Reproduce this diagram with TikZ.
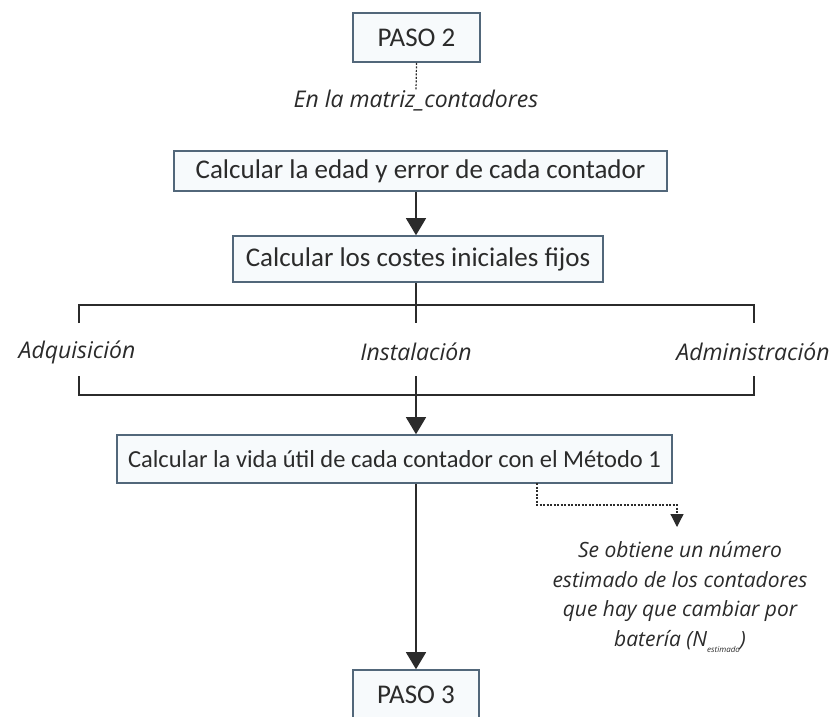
\documentclass[tikz,border=0pt]{standalone}
\usepackage{fontspec}
\setmainfont{Carlito}
\newfontfamily\notefont{Open Sans}
\usetikzlibrary{arrows.meta}
\definecolor{boxline}{HTML}{52677A}
\definecolor{boxfill}{HTML}{F7FAFC}
\definecolor{ink}{HTML}{2B2B2B}
\begin{document}
\begin{tikzpicture}[x=1pt,y=-1pt,
  stepbox/.style={draw=boxline,fill=boxfill,line width=1.6pt,text=ink,
    inner sep=0pt,font=\fontsize{27}{30}\selectfont},
  pasobox/.style={stepbox,font=\fontsize{27}{30}\selectfont},
  label/.style={text=ink,inner sep=0pt,font=\notefont\itshape\fontsize{23}{29.5}\selectfont},
  notelabel/.style={label,font=\notefont\itshape\fontsize{21}{29.5}\selectfont},
  link/.style={draw=ink,line width=1.3pt},
  arr/.style={link,-{Triangle[width=20pt,length=17pt]}},
  dotlink/.style={draw=ink,line width=1.2pt,dash pattern=on 2pt off 1.5pt},
  dotarr/.style={dotlink,-{Triangle[width=13pt,length=13pt]}}]
\useasboundingbox[fill=white] (0,0) rectangle (834,716);

% vertical spine of the flow
\coordinate (spine) at (416,0);

% boxes
\node[pasobox,minimum width=127pt,minimum height=49pt] (paso2) at (416.5,37.5) {PASO 2};
\node[label] (matriz) at (416,101) {En la matriz\_contadores};
\node[stepbox,minimum width=493pt,minimum height=40pt] (edad) at (420.5,171) {Calcular la edad y error de cada contador};
\node[stepbox,minimum width=370pt,minimum height=46pt] (costes) at (418,259) {Calcular los costes iniciales fijos};
\node[stepbox,minimum width=555pt,minimum height=48pt,font=\fontsize{24.5}{30}\selectfont] (vida) at (394.5,459) {Calcular la vida útil de cada contador con el Método 1};
\node[pasobox,minimum width=126pt,minimum height=49pt] (paso3) at (416,694.5) {PASO 3};

% cost categories
\node[label] (adq) at (77,352) {Adquisición};
\node[label] (ins) at (416,352) {Instalación};
\node[label] (adm) at (753,352) {Administración};

% bracket grouping the cost categories
\coordinate (btop) at (416,305);
\coordinate (bbot) at (416,395);
\coordinate (ltop) at (79,305);
\coordinate (rtop) at (754,305);
\coordinate (lbot) at (79,395);
\coordinate (rbot) at (754,395);

% estimate note
\node[notelabel,align=center] (nota) at (680,597) {Se obtiene un número\\estimado de los contadores\\que hay que cambiar por\\batería (N\raisebox{-0.55ex}{\fontsize{8}{8}\selectfont estimado})};
\coordinate (dstart) at (537,483);
\coordinate (dturn) at (537,505);
\coordinate (dend) at (677,527);

% connectors
\draw[dotlink] (paso2.south) -- (matriz.north);
\draw[arr] (edad.south -| spine) -- (costes.north -| spine);
\draw[link] (costes.south -| spine) -- (btop);
\draw[link] (ltop |- 0,323) -- (ltop) -- (rtop) -- (rtop |- 0,323);
\draw[link] (ins.north |- btop) -- (ins.north |- 0,323);
\draw[link] (lbot |- 0,376) -- (lbot) -- (rbot) -- (rbot |- 0,376);
\draw[link] (ins.south |- 0,376) -- (bbot);
\draw[arr] (bbot) -- (vida.north -| spine);
\draw[arr] (vida.south -| spine) -- (paso3.north);
\draw[dotarr] (dstart) -- (dturn) -- (dturn -| dend) -- (dend);
\end{tikzpicture}
\end{document}
